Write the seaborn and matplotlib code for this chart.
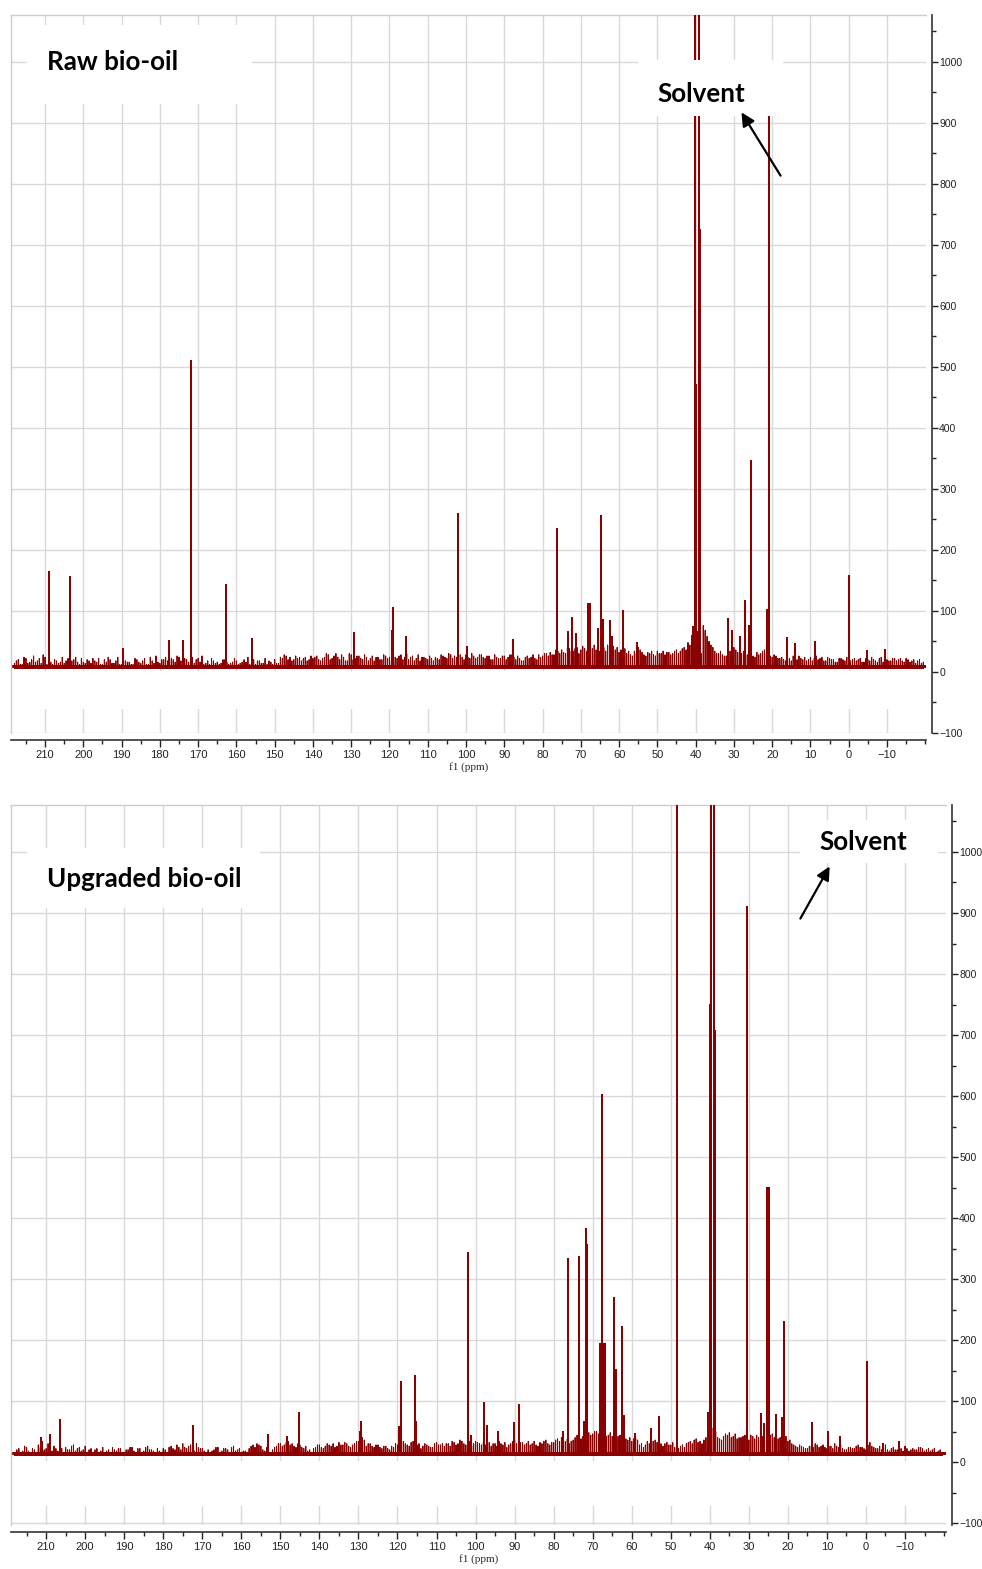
import numpy as np
import pandas as pd
import matplotlib
matplotlib.use("Agg")
import matplotlib.pyplot as plt
from matplotlib.ticker import MultipleLocator
from matplotlib.patches import Rectangle, FancyArrowPatch
import seaborn as sns

# ---------------- data ----------------
# Raw bio-oil: main peaks (ppm, intensity)
raw_peak_ppm = [209.0, 203.5, 189.6, 177.6, 173.9, 171.9, 162.7, 156.0, 129.2, 119.3,
                119.1, 115.6, 102.0, 99.8, 87.7, 76.2, 73.3, 72.3, 71.3, 68.0,
                67.6, 65.5, 64.7, 64.1, 62.4, 61.8, 59.1, 55.4, 40.6, 40.2,
                40.0, 39.0, 38.9, 38.8, 31.6, 30.4, 28.4, 27.1, 26.1, 25.5,
                21.4, 20.85, 16.2, 14.0, 8.8, 0.0, -4.9, -9.5]
raw_peak_int = [164, 155, 37, 50, 51, 510, 143, 54, 64, 67,
                105, 58, 259, 41, 52, 234, 66, 88, 62, 111,
                111, 70, 256, 85, 83, 58, 100, 48, 74, 1100,
                470, 1100, 725, 272, 87, 68, 58, 117, 76, 346,
                102, 950, 55, 46, 49, 157, 35, 36]

# Raw bio-oil: noise floor at whole ppm (218 ... -19) and at half ppm (217.5 ... -19.5)
raw_noise = [14, 20, 12, 22, 16, 26, 18, 14, 24, 20,
             12, 18, 16, 14, 22, 18, 24, 12, 16, 20,
             14, 18, 22, 12, 16, 20, 14, 24, 12, 18,
             16, 12, 20, 14, 22, 12, 18, 26, 14, 20,
             18, 22, 16, 24, 28, 20, 16, 14, 22, 26,
             14, 12, 18, 16, 14, 20, 12, 16, 18, 14,
             20, 24, 16, 12, 18, 14, 12, 16, 20, 14,
             22, 26, 24, 20, 22, 18, 24, 20, 22, 26,
             18, 24, 28, 22, 30, 20, 24, 18, 28, 22,
             26, 20, 24, 22, 18, 24, 20, 26, 24, 28,
             22, 28, 24, 20, 26, 22, 18, 24, 20, 22,
             24, 20, 26, 22, 28, 26, 30, 24, 28, 22,
             26, 24, 28, 22, 26, 20, 24, 22, 26, 24,
             28, 20, 22, 18, 26, 24, 22, 28, 26, 30,
             32, 28, 34, 36, 30, 38, 34, 40, 36, 38,
             42, 38, 36, 34, 40, 44, 38, 36, 32, 42,
             30, 28, 34, 40, 32, 26, 30, 28, 34, 30,
             28, 32, 30, 36, 34, 40, 48, 60, 74, 30,
             76, 58, 44, 34, 30, 28, 26, 34, 40, 32,
             30, 34, 28, 26, 32, 30, 36, 28, 24, 26,
             22, 20, 24, 18, 22, 26, 20, 18, 24, 22,
             20, 24, 18, 22, 20, 16, 22, 18, 26, 20,
             18, 22, 16, 20, 24, 18, 22, 16, 20, 18,
             22, 20, 18, 22, 16, 20, 18, 14]
raw_noise_half = [18, 12, 24, 14, 20, 16, 22, 28, 12, 16,
                  20, 14, 24, 18, 12, 20, 16, 22, 14, 18,
                  22, 16, 12, 20, 24, 14, 18, 12, 22, 16,
                  12, 22, 16, 18, 12, 24, 14, 16, 20, 24,
                  14, 20, 26, 18, 22, 16, 24, 20, 16, 12,
                  18, 22, 14, 12, 20, 16, 14, 22, 12, 16,
                  16, 12, 20, 18, 14, 22, 18, 12, 14, 24,
                  28, 20, 18, 26, 24, 22, 18, 26, 24, 20,
                  22, 30, 20, 26, 24, 28, 18, 30, 20, 26,
                  22, 28, 18, 26, 24, 20, 28, 22, 18, 24,
                  26, 20, 30, 24, 18, 28, 24, 22, 26, 18,
                  22, 28, 24, 30, 22, 24, 28, 20, 24, 30,
                  22, 28, 24, 26, 20, 28, 22, 26, 20, 28,
                  24, 26, 18, 24, 22, 28, 20, 24, 30, 26,
                  28, 36, 30, 32, 40, 34, 38, 30, 42, 34,
                  36, 44, 40, 38, 34, 38, 42, 40, 36, 38,
                  34, 26, 30, 36, 28, 32, 34, 26, 30, 34,
                  32, 28, 34, 30, 38, 36, 44, 54, 66, 30,
                  68, 50, 40, 30, 34, 26, 30, 38, 36, 28,
                  34, 28, 32, 24, 28, 34, 30, 26, 28, 22,
                  24, 18, 22, 26, 20, 22, 24, 20, 18, 26,
                  22, 18, 24, 20, 16, 22, 20, 24, 18, 22,
                  20, 16, 22, 18, 20, 16, 24, 20, 18, 22,
                  18, 22, 16, 20, 18, 14, 20, 16]

# Upgraded bio-oil: main peaks
upg_peak_ppm = [211.3, 209.0, 206.4, 172.3, 153.2, 148.3, 145.2, 129.5, 129.3, 119.5,
                119.0, 115.4, 115.2, 102.0, 101.2, 97.8, 97.0, 94.2, 90.1, 88.9,
                77.7, 76.3, 73.5, 72.2, 71.9, 71.7, 71.5, 68.2, 67.9, 67.5,
                67.2, 66.9, 64.6, 64.0, 62.5, 62.0, 59.2, 55.1, 53.1, 48.5,
                40.4, 40.0, 39.6, 38.9, 38.75, 38.6, 30.4, 27.0, 26.1, 25.3,
                24.9, 23.1, 21.5, 20.9, 13.8, 9.7, 6.7, -0.2, -4.4, -8.5]
upg_peak_int = [39, 44, 69, 59, 44, 42, 81, 50, 66, 58,
                132, 141, 66, 342, 43, 97, 59, 50, 64, 93,
                50, 333, 337, 65, 64, 382, 356, 193, 193, 602,
                193, 193, 269, 151, 221, 75, 46, 54, 74, 1100,
                81, 750, 1100, 1100, 706, 261, 910, 79, 62, 450,
                450, 77, 72, 229, 64, 50, 41, 164, 30, 33]

upg_noise = [16, 22, 18, 24, 14, 20, 28, 34, 22, 20,
             26, 18, 22, 24, 20, 28, 22, 18, 26, 20,
             16, 22, 18, 14, 20, 24, 18, 22, 16, 20,
             24, 14, 22, 18, 26, 20, 14, 18, 22, 16,
             26, 20, 24, 30, 22, 28, 18, 24, 22, 16,
             14, 20, 24, 18, 22, 16, 26, 20, 14, 18,
             22, 28, 30, 26, 18, 16, 20, 26, 30, 28,
             34, 30, 24, 28, 22, 18, 16, 24, 28, 22,
             30, 26, 24, 32, 28, 30, 24, 30, 34, 40,
             26, 30, 24, 28, 22, 26, 20, 24, 28, 40,
             30, 26, 34, 28, 22, 30, 26, 24, 32, 28,
             26, 30, 34, 28, 36, 30, 38, 26, 34, 30,
             32, 28, 26, 30, 34, 28, 24, 30, 36, 28,
             32, 30, 28, 34, 26, 30, 36, 28, 32, 38,
             40, 34, 30, 36, 44, 38, 42, 48, 46, 50,
             46, 40, 44, 42, 38, 44, 40, 36, 34, 40,
             28, 24, 34, 30, 36, 28, 26, 32, 28, 24,
             22, 28, 30, 34, 36, 32, 30, 40, 52, 60,
             40, 36, 46, 48, 42, 38, 40, 44, 36, 42,
             44, 38, 40, 36, 46, 42, 40, 48, 34, 30,
             26, 28, 24, 22, 26, 30, 24, 28, 22, 26,
             30, 24, 22, 20, 24, 22, 28, 24, 20, 32,
             24, 22, 20, 28, 18, 24, 20, 22, 26, 18,
             22, 20, 24, 18, 22, 20, 16, 20]
upg_noise_half = [20, 14, 26, 18, 22, 16, 24, 20, 30, 18,
                  22, 28, 16, 20, 26, 18, 24, 20, 16, 22,
                  20, 14, 24, 18, 16, 20, 22, 16, 20, 24,
                  18, 22, 16, 24, 20, 18, 22, 16, 20, 24,
                  22, 28, 20, 24, 26, 20, 30, 22, 18, 20,
                  18, 24, 16, 22, 20, 24, 18, 22, 18, 16,
                  26, 24, 28, 20, 24, 14, 24, 30, 26, 32,
                  28, 26, 30, 24, 26, 20, 22, 28, 24, 26,
                  28, 30, 26, 28, 32, 26, 28, 34, 30, 36,
                  30, 26, 28, 24, 26, 22, 26, 30, 24, 34,
                  28, 32, 26, 30, 26, 28, 24, 30, 28, 30,
                  30, 26, 32, 30, 34, 28, 34, 30, 32, 28,
                  28, 32, 30, 26, 30, 32, 28, 34, 30, 32,
                  28, 34, 30, 28, 32, 34, 30, 32, 36, 34,
                  36, 38, 34, 40, 40, 42, 46, 44, 50, 46,
                  44, 42, 48, 38, 42, 40, 38, 40, 38, 36,
                  30, 28, 30, 34, 32, 30, 30, 28, 32, 26,
                  26, 24, 32, 30, 38, 34, 36, 44, 56, 50,
                  38, 42, 44, 40, 46, 40, 42, 40, 44, 38,
                  40, 42, 36, 44, 40, 38, 46, 42, 36, 28,
                  24, 26, 22, 26, 24, 28, 26, 24, 26, 22,
                  26, 28, 20, 24, 22, 26, 24, 22, 28, 26,
                  22, 26, 24, 20, 22, 20, 24, 18, 22, 20,
                  20, 24, 22, 20, 18, 22, 18, 16]

noise_ppm = list(range(218, -20, -1))
noise_ppm_half = [p - 0.5 for p in noise_ppm]

x_ticks = list(range(-10, 211, 10))
y_ticks = list(range(-100, 1001, 100))

raw_base, raw_band = 6, 11
upg_base, upg_band = 11, 16

titles = ["Raw bio-oil", "Upgraded bio-oil"]
solvent_label = "Solvent"
xlabel = "f1 (ppm)"

RED = "#8b0000"
GRID = "#d9d9d9"

# ---------------- helpers ----------------
W, H = 982, 1569


def spikes(ppm, inten, base):
    pts = sorted(zip(ppm, inten), key=lambda t: -t[0])
    xs, ys = [], []
    for p, h in pts:
        xs += [p, p, p]
        ys += [base, h, base]
    return pd.DataFrame({"ppm": xs, "intensity": ys})


def fig_box(x0, y0, x1, y1):
    return (x0 / W, 1 - y1 / H, (x1 - x0) / W, (y1 - y0) / H)


sns.set_style("white")
plt.rcParams["font.family"] = ["Liberation Sans", "DejaVu Sans"]

fig = plt.figure(figsize=(W / 100, H / 100), dpi=100)
fig.patch.set_facecolor("white")

panels = [
    dict(box=fig_box(11, 15, 926, 733), xlim=(218.9, -20.2), ylim=(-100, 1077),
         peaks=(raw_peak_ppm, raw_peak_int), noise=(raw_noise, raw_noise_half),
         base=raw_base, band=raw_band, blank=-60),
    dict(box=fig_box(11, 805, 946, 1525), xlim=(219.0, -20.5), ylim=(-103, 1077),
         peaks=(upg_peak_ppm, upg_peak_int), noise=(upg_noise, upg_noise_half),
         base=upg_base, band=upg_band, blank=-72),
]

for cfg in panels:
    ax = fig.add_axes(cfg["box"])
    noise_df = spikes(noise_ppm + noise_ppm_half,
                      list(cfg["noise"][0]) + list(cfg["noise"][1]), cfg["base"])
    peak_df = spikes(cfg["peaks"][0], cfg["peaks"][1], cfg["base"])
    ax.fill_between(list(cfg["xlim"]), [cfg["base"]] * 2, [cfg["band"]] * 2,
                    color=RED, lw=0, zorder=2)
    sns.lineplot(data=noise_df, x="ppm", y="intensity", sort=False, estimator=None,
                 color=RED, lw=0.75, ax=ax, zorder=3)
    sns.lineplot(data=peak_df, x="ppm", y="intensity", sort=False, estimator=None,
                 color=RED, lw=1.2, ax=ax, zorder=4)
    ax.axhspan(cfg["blank"], 2, color="white", lw=0, zorder=1)
    ax.set_xlim(*cfg["xlim"])
    ax.set_ylim(*cfg["ylim"])
    ax.set_xticks(x_ticks)
    ax.set_yticks(y_ticks)
    ax.xaxis.set_minor_locator(MultipleLocator(5))
    ax.yaxis.set_minor_locator(MultipleLocator(50))
    ax.yaxis.tick_right()
    ax.set_axisbelow(True)
    ax.grid(True, which="major", color=GRID, lw=1.0)
    ax.set_xlabel(xlabel, fontsize=8, labelpad=2,
                  family=["Liberation Serif", "DejaVu Serif"])
    ax.set_ylabel("")
    ax.tick_params(axis="x", which="major", direction="out", length=5, width=1,
                   labelsize=8, pad=2, colors="#222222", bottom=True)
    ax.tick_params(axis="x", which="minor", direction="out", length=3, width=1,
                   bottom=True, colors="#222222")
    ax.tick_params(axis="y", which="major", direction="out", length=4, width=1,
                   labelsize=7.5, pad=1.5, right=True, left=False, colors="#222222")
    ax.tick_params(axis="y", which="minor", direction="out", length=3, width=1,
                   right=True, left=False, colors="#222222")
    for s in ["left", "top"]:
        ax.spines[s].set_color("#cccccc")
        ax.spines[s].set_linewidth(1.0)
    ax.spines["right"].set_position(("outward", 4))
    ax.spines["bottom"].set_position(("outward", 5))
    for s in ["right", "bottom"]:
        ax.spines[s].set_color("#333333")
        ax.spines[s].set_linewidth(1.2)

# white label boxes (cover the grid, as in the original)
for (x0, y0, x1, y1) in [(27, 25, 252, 104), (638, 60, 783, 116),
                         (27, 848, 260, 908), (800, 820, 938, 863)]:
    fig.add_artist(Rectangle((x0 / W, 1 - y1 / H), (x1 - x0) / W, (y1 - y0) / H,
                             transform=fig.transFigure, facecolor="white",
                             edgecolor="none", zorder=5))

tfont = dict(family=["Lato", "DejaVu Sans"], weight="bold", fontsize=18.7,
             color="black", zorder=6)
fig.text(47 / W, 1 - 70 / H, titles[0], ha="left", va="baseline", **tfont)
fig.text(657 / W, 1 - 102 / H, solvent_label, ha="left", va="baseline", **tfont)
fig.text(47 / W, 1 - 887 / H, titles[1], ha="left", va="baseline", **tfont)
fig.text(819 / W, 1 - 850 / H, solvent_label, ha="left", va="baseline", **tfont)

for (tx, ty, hx, hy) in [(782, 178, 740, 110), (799, 921, 831, 864)]:
    fig.add_artist(FancyArrowPatch((tx / W, 1 - ty / H), (hx / W, 1 - hy / H),
                                   transform=fig.transFigure, arrowstyle="-|>",
                                   mutation_scale=20, lw=1.6, color="black",
                                   zorder=6))

fig.savefig("out.png", dpi=100, facecolor="white")
